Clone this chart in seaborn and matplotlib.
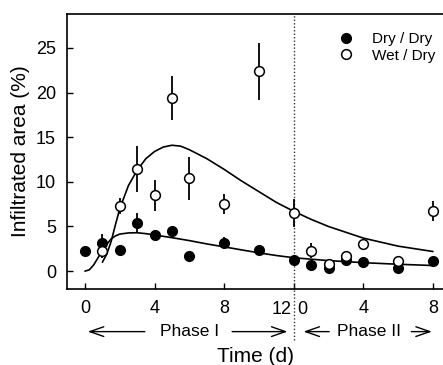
import numpy as np
import pandas as pd
import matplotlib
matplotlib.use("Agg")
import matplotlib.pyplot as plt
from matplotlib.lines import Line2D
import seaborn as sns

# observations (day on a continuous axis: phase II day 0 = 12)
days = [0, 1, 2, 3, 4, 5, 6, 8, 10, 12, 13, 14, 15, 16, 18, 20]
dry_dry = [2.3, 3.2, 2.4, 5.4, 4.0, 4.45, 1.7, 3.2, 2.4, 1.2, 0.65, 0.4, 1.2, 1.05, 0.4, 1.1]
dry_err = [0.2, 1.0, 0.2, 1.1, 0.2, 0.2, 0.2, 0.65, 0.2, 0.2, 0.2, 0.2, 0.2, 0.2, 0.2, 0.2]

wet_days = [1, 2, 3, 4, 5, 6, 8, 10, 12, 13, 14, 15, 16, 18, 20]
wet_dry = [2.2, 7.25, 11.45, 8.5, 19.4, 10.4, 7.55, 22.4, 6.5, 2.3, 0.75, 1.75, 3.05, 1.1, 6.7]
wet_err = [0.7, 0.9, 2.6, 1.75, 2.5, 2.4, 1.1, 3.2, 1.6, 0.85, 0.2, 0.4, 0.2, 0.2, 1.1]

# fitted curves
dry_fit_t = [0, 0.25, 0.5, 0.75, 1, 1.25, 1.5, 1.75, 2, 2.5, 3, 3.5, 4, 5, 6, 7, 8, 9, 10, 11, 12, 14, 16, 18, 20]
dry_fit_y = [0, 0.15, 0.7, 1.5, 2.3, 3.0, 3.6, 3.95, 4.15, 4.28, 4.3, 4.2, 4.05, 3.75, 3.42, 3.05, 2.72, 2.38, 2.05, 1.75, 1.5, 1.18, 0.95, 0.77, 0.63]

wet_fit_t = [1, 1.25, 1.5, 1.75, 2, 2.5, 3, 3.5, 4, 4.5, 5, 5.5, 6, 7, 8, 9, 10, 11, 12, 13, 14, 16, 18, 20]
wet_fit_y = [1.0, 1.9, 3.3, 5.2, 7.0, 9.6, 11.3, 12.6, 13.4, 13.9, 14.1, 14.0, 13.6, 12.6, 11.4, 10.1, 8.9, 7.7, 6.7, 5.8, 5.0, 3.7, 2.8, 2.2]

tick_pos = [0, 4, 8, 12, 16, 20]
tick_labels = ["0", "4", "8", "", "4", "8"]

sns.set_style("ticks", {'axes.edgecolor': 'black', 'text.color': 'black',
                        'axes.labelcolor': 'black', 'xtick.color': 'black',
                        'ytick.color': 'black'})
plt.rcParams['font.family'] = ['Liberation Sans', 'DejaVu Sans']

fig = plt.figure(figsize=(4.43, 3.65), dpi=100)
ax = fig.add_axes([67 / 443, 76 / 365, 376 / 443, 275 / 365])

fits = pd.concat([
    pd.DataFrame({'t': dry_fit_t, 'y': dry_fit_y, 'g': 'dry'}),
    pd.DataFrame({'t': wet_fit_t, 'y': wet_fit_y, 'g': 'wet'}),
])
sns.lineplot(data=fits, x='t', y='y', units='g', estimator=None, color='black',
             lw=1.2, ax=ax, legend=False)

ax.errorbar(days, dry_dry, yerr=dry_err, fmt='o', color='black', mfc='black', mec='black',
            ms=7, elinewidth=1.3, capsize=0, zorder=3)
ax.errorbar(wet_days, wet_dry, yerr=wet_err, fmt='o', color='black', mfc='white', mec='black',
            ms=7, mew=1.1, elinewidth=1.3, capsize=0, zorder=4)

ax.axvline(12, ymin=-0.185, ymax=1, color='0.2', ls=(0, (1, 1.5)), lw=1, clip_on=False)

ax.set_xlim(-1.034, 20.58)
ax.set_ylim(-2, 28.8)
ax.set_xticks(tick_pos)
ax.set_xticklabels(tick_labels)
ax.set_yticks([0, 5, 10, 15, 20, 25])
ax.tick_params(direction='in', length=4, width=1, labelsize=13, pad=8, colors='black')
ax.spines['right'].set_visible(False)
for s in ['left', 'top', 'bottom']:
    ax.spines[s].set_linewidth(1.2)
    ax.spines[s].set_color('black')

# split label at the phase boundary
trans = ax.get_xaxis_transform()
ax.text(11.85, -0.045, "12", transform=trans, ha='right', va='top', fontsize=13)
ax.text(12.2, -0.045, "0", transform=trans, ha='left', va='top', fontsize=13)

# phase arrows
ya = -0.155
arr = dict(arrowstyle='->, head_length=1.0, head_width=0.35', color='black', lw=1)
ax.annotate('', xy=(0, ya), xytext=(3.6, ya), xycoords=trans, textcoords=trans, arrowprops=arr)
ax.text(6.0, ya, "Phase I", transform=trans, ha='center', va='center', fontsize=12.5)
ax.annotate('', xy=(11.8, ya), xytext=(8.3, ya), xycoords=trans, textcoords=trans, arrowprops=arr)
ax.annotate('', xy=(12.4, ya), xytext=(14.2, ya), xycoords=trans, textcoords=trans, arrowprops=arr)
ax.text(16.35, ya, "Phase II", transform=trans, ha='center', va='center', fontsize=12.5)
ax.annotate('', xy=(20.1, ya), xytext=(18.6, ya), xycoords=trans, textcoords=trans, arrowprops=arr)

ax.set_xlabel('')
ax.set_ylabel('Infiltrated area (%)', fontsize=15, labelpad=4)
fig.text(256 / 443, 1 - 357 / 365, 'Time (d)', ha='center', va='center', fontsize=15)

handles = [Line2D([], [], ls='none', marker='o', ms=7, mfc='black', mec='black'),
           Line2D([], [], ls='none', marker='o', ms=7, mfc='white', mec='black', mew=1.1)]
ax.legend(handles, ['Dry / Dry', 'Wet / Dry'], loc='upper right', bbox_to_anchor=(0.995, 0.955),
          frameon=False, fontsize=11, handletextpad=0.7, labelspacing=0.15, borderaxespad=0)

fig.savefig('out.png', dpi=100)
